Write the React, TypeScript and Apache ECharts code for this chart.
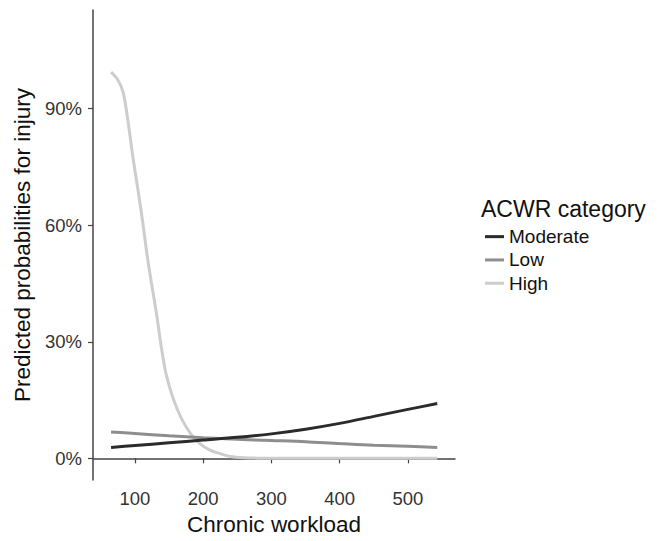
import React, { useEffect, useRef } from "react";
import * as echarts from "echarts";

const workload = [65, 100, 150, 200, 250, 300, 350, 400, 450, 500, 543];
const moderate = [2.8, 3.3, 4.0, 4.7, 5.4, 6.3, 7.5, 9.0, 10.8, 12.6, 14.1];
const low = [6.8, 6.4, 5.8, 5.3, 4.9, 4.6, 4.3, 3.8, 3.4, 3.1, 2.8];
const highWorkload = [65, 75, 83, 90, 97, 105, 112, 118, 124, 132, 139, 146, 156, 168, 183, 195, 210, 225, 240, 260, 280, 320, 400, 480, 543];
const high = [99.4, 97.4, 94, 86.5, 77.5, 68.4, 60, 52, 45.3, 36.7, 28.2, 21.4, 15.4, 10.3, 6.0, 3.8, 2.1, 1.2, 0.5, 0.15, 0.05, 0, 0, 0, 0];
const xTicks = [100, 200, 300, 400, 500];
const yTicks = [0, 30, 60, 90];
const seriesNames = ["Moderate", "Low", "High"];
const seriesColors = ["#2b2b2b", "#8e8e8e", "#cdcdcd"];

const FONT = "Liberation Sans, Arial, sans-serif";

export default function App() {
  const ref = useRef<HTMLDivElement>(null);
  useEffect(() => {
    const chart = echarts.init(ref.current!, null, { renderer: "svg" });
    const xs = [workload, workload, highWorkload];
    const values = [moderate, low, high];
    chart.setOption({
      animation: false,
      title: {
        text: "ACWR category",
        left: 481,
        top: 197,
        textStyle: { fontFamily: FONT, fontSize: 23, fontWeight: "normal", color: "#111" },
        padding: 0,
      },
      legend: {
        orient: "vertical",
        left: 485,
        top: 225,
        padding: 0,
        itemGap: 0,
        itemWidth: 19,
        itemHeight: 3,
        icon: "rect",
        data: seriesNames,
        textStyle: { fontFamily: FONT, fontSize: 19, color: "#111", lineHeight: 23.3 },
      },
      grid: { left: 93, right: 213, top: 10, bottom: 59, containLabel: false },
      xAxis: {
        type: "value",
        min: 38.5,
        max: 569,
        name: "Chronic workload",
        nameLocation: "middle",
        nameGap: 31,
        nameTextStyle: { fontFamily: FONT, fontSize: 22.5, color: "#111" },
        axisLine: { show: true, lineStyle: { color: "#444", width: 1.5 } },
        axisTick: { show: true, length: 5, customValues: xTicks, lineStyle: { color: "#444", width: 1.2 } },
        axisLabel: {
          customValues: xTicks,
          margin: 9,
          fontFamily: FONT,
          fontSize: 18.5,
          color: "#333",
        },
        splitLine: { show: false },
      },
      yAxis: {
        type: "value",
        min: -5.6,
        max: 115.4,
        name: "Predicted probabilities for injury",
        nameLocation: "middle",
        nameGap: 54,
        nameTextStyle: { fontFamily: FONT, fontSize: 22.5, color: "#111" },
        axisLine: { show: true, lineStyle: { color: "#444", width: 1.5 } },
        axisTick: { show: true, length: 5, customValues: yTicks, lineStyle: { color: "#444", width: 1.2 } },
        axisLabel: {
          customValues: yTicks,
          margin: 11,
          fontFamily: FONT,
          fontSize: 18.5,
          color: "#333",
          formatter: (v: number) => `${Math.round(v)}%`,
        },
        splitLine: { show: false },
      },
      series: seriesNames.map((name, i) => ({
        name,
        type: "line",
        showSymbol: false,
        smooth: 0.3,
        data: xs[i].map((x, j) => [x, values[i][j]]),
        lineStyle: { color: seriesColors[i], width: 3 },
        itemStyle: { color: seriesColors[i] },
        z: 3 - i,
      })),
    });
    return () => chart.dispose();
  }, []);
  return (
    <div
      ref={ref}
      style={{ position: "absolute", left: 0, top: 0, width: 668, height: 541, background: "#fff" }}
    />
  );
}
